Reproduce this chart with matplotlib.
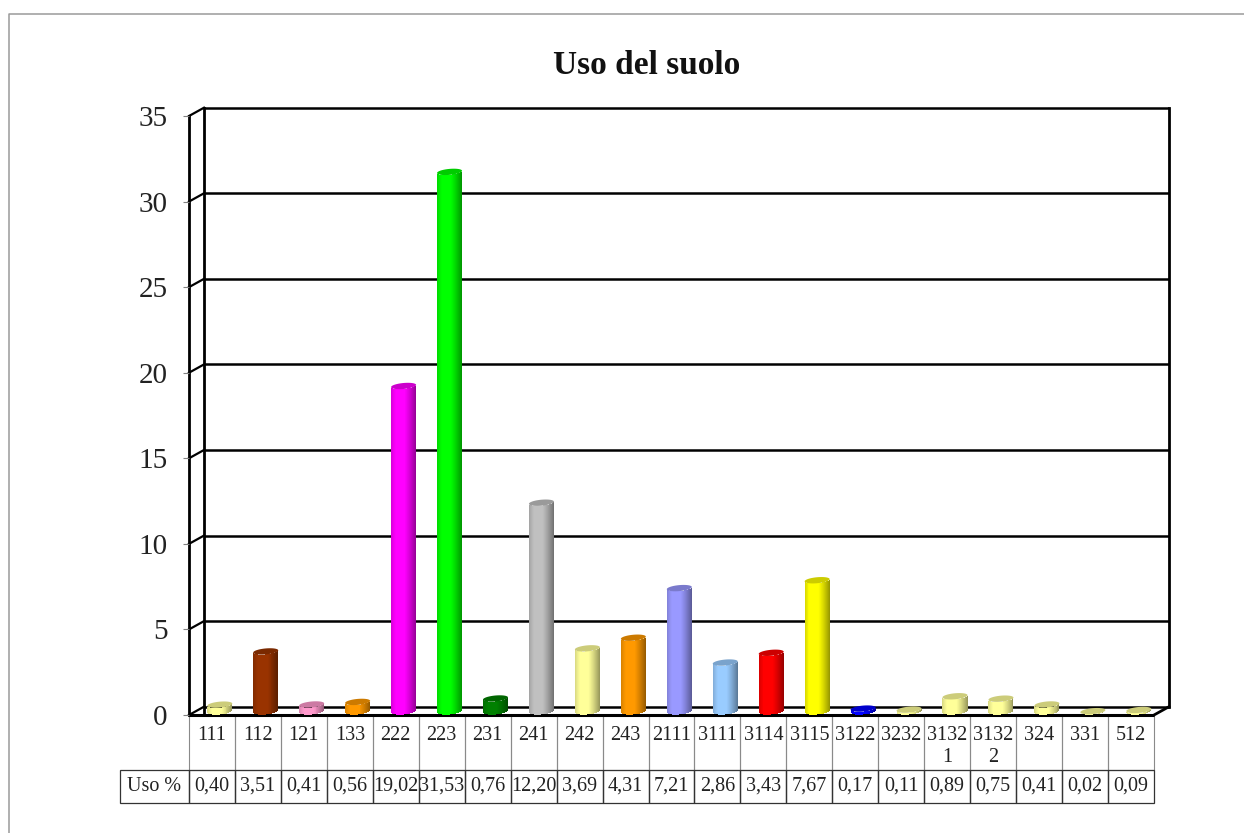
import numpy as np
import matplotlib
matplotlib.use("Agg")
import matplotlib.pyplot as plt
from matplotlib.lines import Line2D
from matplotlib.table import Table
from matplotlib.transforms import blended_transform_factory

categories = ["111", "112", "121", "133", "222", "223", "231", "241", "242", "243", "2111",
              "3111", "3114", "3115", "3122", "3232", "3132\n1", "3132\n2", "324", "331", "512"]
values = [0.40, 3.51, 0.41, 0.56, 19.02, 31.53, 0.76, 12.20, 3.69, 4.31, 7.21,
          2.86, 3.43, 7.67, 0.17, 0.11, 0.89, 0.75, 0.41, 0.02, 0.09]
value_labels = ["0,40", "3,51", "0,41", "0,56", "19,02", "31,53", "0,76", "12,20", "3,69", "4,31", "7,21",
                "2,86", "3,43", "7,67", "0,17", "0,11", "0,89", "0,75", "0,41", "0,02", "0,09"]
colors = ["#FFFF99", "#993300", "#FF99CC", "#FF9900", "#FF00FF", "#00FF00", "#008000", "#C0C0C0",
          "#FFFF99", "#FF9900", "#9999FF", "#99CCFF", "#FF0000", "#FFFF00", "#0000FF", "#FFFF99",
          "#FFFF99", "#FFFF99", "#FFFF99", "#FFFF99", "#FFFF99"]
yticks = [0, 5, 10, 15, 20, 25, 30, 35]

W, H = 1244, 833
plt.rcParams["font.family"] = "Liberation Serif"
fig = plt.figure(figsize=(W / 100, H / 100), dpi=100, facecolor="white")

# page frame: only the top and left edges are visible
fig.add_artist(Line2D([8.5 / W, 8.5 / W, 1], [0, 1 - 13.5 / H, 1 - 13.5 / H], transform=fig.transFigure,
                      color="#9a9a9a", lw=1.1))

L, R, T, B = 189, 1154, 116, 715
ax = fig.add_axes([L / W, 1 - B / H, (R - L) / W, (B - T) / H])
n = len(values)
ax.set_xlim(-0.5, n - 0.5)
ax.set_ylim(0, 35)
for s in ax.spines.values():
    s.set_visible(False)
ax.patch.set_visible(False)
ax.set_xticks([])
ax.set_yticks(yticks)
ax.tick_params(axis="y", length=4.5, width=0.8, color="#808080", labelsize=21, pad=11, labelcolor="#222222")

px = n / (R - L)
py = 35 / (B - T)
depth_x, depth_y = 15 * px, 8.3 * py
x0, x1 = -0.5, n - 0.5
lw_wall = 2.0
black = "#000000"

# back wall and floor
for t in yticks:
    ax.plot([x0 + depth_x, x1 + depth_x], [t + depth_y] * 2, color=black, lw=1.8,
            clip_on=False, solid_capstyle="butt", zorder=1)
    ax.plot([x0, x0 + depth_x], [t, t + depth_y], color=black, lw=1.6, clip_on=False, zorder=1)
ax.plot([x0 + depth_x] * 2, [0, 35 + depth_y], color=black, lw=lw_wall, clip_on=False, zorder=1)
ax.plot([x1 + depth_x] * 2, [depth_y, 35 + depth_y], color=black, lw=lw_wall, clip_on=False, zorder=1)
ax.plot([x0, x0], [0, 35], color=black, lw=lw_wall, clip_on=False, zorder=1)
ax.plot([x0, x1], [0, 0], color=black, lw=2.2, clip_on=False, zorder=1, solid_capstyle="butt")
ax.plot([x1, x1 + depth_x], [0, depth_y], color=black, lw=lw_wall, clip_on=False, zorder=1)

# cylinders
half_w = 12.5 * px
b_y = 3.0 * py
c_y = 1.1 * py
dx = 7.8 * px
dy = 3.5 * py
n_strips = 26
u = np.linspace(-1, 1, n_strips + 1)
uc = (u[:-1] + u[1:]) / 2


def shade(base, f):
    base = np.array(matplotlib.colors.to_rgb(base))
    return tuple(np.clip(base * f, 0, 1))


for i, (v, col) in enumerate(zip(values, colors)):
    cx = i + dx
    lower = -b_y * np.sqrt(1 - uc ** 2) + c_y * uc
    for uu, low in zip(uc, lower):
        f = 1.0 - 0.42 * np.clip((np.abs(uu + 0.25) - 0.35) / 0.9, 0, 1) ** 1.2
        ax.bar(cx + uu * half_w, v, width=half_w * 2 / n_strips * 1.05,
               bottom=dy + low, color=[shade(col, f)], linewidth=0, zorder=3, clip_on=False)
    t = np.linspace(0, 2 * np.pi, 60)
    ax.fill(cx + half_w * np.cos(t), dy + v + b_y * np.sin(t) + c_y * np.cos(t),
            color=shade(col, 0.8), linewidth=0, zorder=4, clip_on=False)

# data table
ax_w, ax_h = R - L, B - T
label_w = 69
row1_h, row2_h = 55, 33
tb = Table(ax, bbox=[0, -(row1_h + row2_h) / ax_h, 1, (row1_h + row2_h) / ax_h])
tb.auto_set_font_size(False)
cw = 1 / n
for j in range(n):
    c = tb.add_cell(0, j, width=cw, height=row1_h / ax_h, text="", edgecolor="#8a8a8a", facecolor="none")
    c.set_linewidth(0.8)
    c = tb.add_cell(1, j, width=cw, height=row2_h / ax_h, text=value_labels[j], loc="center",
                    edgecolor="#333333", facecolor="none")
    c.set_linewidth(0.9)
    c.get_text().set_fontsize(14.5)
    c.get_text().set_color("#222222")
c = tb.add_cell(1, -1, width=label_w / ax_w, height=row2_h / ax_h, text="Uso %", loc="center",
                edgecolor="#333333", facecolor="none")
c.set_linewidth(0.9)
c.get_text().set_fontsize(14.5)
c.get_text().set_color("#222222")
ax.add_table(tb)

trans = blended_transform_factory(ax.transData, ax.transAxes)
for j, name in enumerate(categories):
    ax.text(j, -(725.5 - B) / ax_h, name, transform=trans, ha="center", va="top",
            fontsize=14.5, color="#222222", linespacing=1.25, clip_on=False)

fig.text(647 / W, 1 - 65 / H, "Uso del suolo", ha="center", va="center", fontsize=24, fontweight="bold",
         color="#111111")

fig.savefig("out.png", dpi=100, facecolor="white")
